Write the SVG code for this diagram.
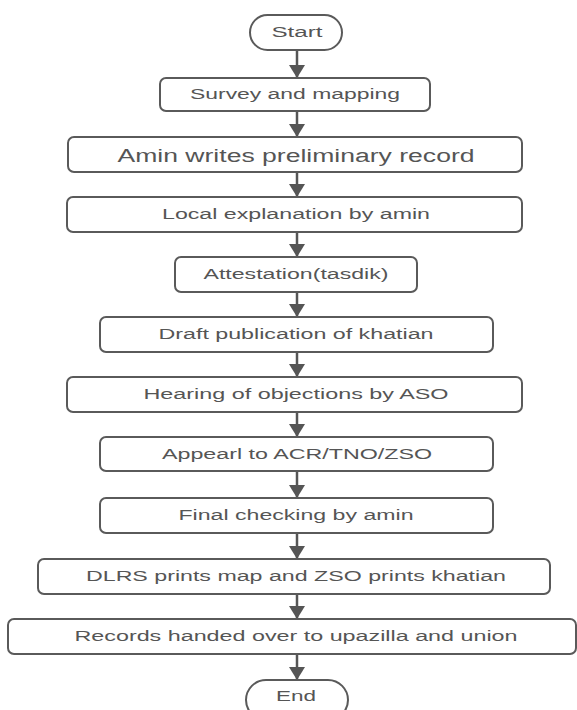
<svg xmlns="http://www.w3.org/2000/svg" width="577" height="710" viewBox="0 0 577 710">
<defs>
<style>
.box{fill:#fff;stroke:#5a5a5a;stroke-width:2}
.t{font-family:"Liberation Sans",Arial,sans-serif;font-size:14px;fill:#555;text-anchor:middle}
.big{font-size:18px}
.conn path{stroke:#555;stroke-width:2.5;fill:none}
</style>
<marker id="ah" markerUnits="userSpaceOnUse" markerWidth="13" markerHeight="16" viewBox="0 0 13 16" refX="13" refY="8" orient="auto">
<path d="M0,0 L13,8 L0,16 z" fill="#555"/>
</marker>
</defs>
<rect width="577" height="710" fill="#fff"/>
<g class="conn">
<path d="M297,50 V78" marker-end="url(#ah)"/>
<path d="M297,111 V137" marker-end="url(#ah)"/>
<path d="M297,172 V197" marker-end="url(#ah)"/>
<path d="M297,232 V257" marker-end="url(#ah)"/>
<path d="M297,292 V317" marker-end="url(#ah)"/>
<path d="M297,352 V377" marker-end="url(#ah)"/>
<path d="M297,412 V437" marker-end="url(#ah)"/>
<path d="M297,471 V498" marker-end="url(#ah)"/>
<path d="M297,533 V559" marker-end="url(#ah)"/>
<path d="M297,594 V619" marker-end="url(#ah)"/>
<path d="M297,654 V680" marker-end="url(#ah)"/>
</g>
<g id="start"><rect class="box" x="250" y="15" width="92" height="35" rx="17.5"/><text class="t" x="297" y="37" textLength="51" lengthAdjust="spacingAndGlyphs">Start</text></g>
<g id="survey"><rect class="box" x="160" y="78" width="270" height="33" rx="6"/><text class="t" x="295" y="99" font-size="15" textLength="210" lengthAdjust="spacingAndGlyphs">Survey and mapping</text></g>
<g id="amin"><rect class="box" x="68" y="137" width="454" height="35" rx="6"/><text class="t big" x="296" y="162" textLength="357" lengthAdjust="spacingAndGlyphs">Amin writes preliminary record</text></g>
<g id="local"><rect class="box" x="67" y="197" width="455" height="35" rx="6"/><text class="t" x="296" y="219" textLength="268" lengthAdjust="spacingAndGlyphs">Local explanation by amin</text></g>
<g id="attest"><rect class="box" x="175" y="257" width="242" height="35" rx="6"/><text class="t" x="296" y="279" textLength="185" lengthAdjust="spacingAndGlyphs">Attestation(tasdik)</text></g>
<g id="draft"><rect class="box" x="100" y="317" width="393" height="35" rx="6"/><text class="t" x="296" y="339" textLength="275" lengthAdjust="spacingAndGlyphs">Draft publication of khatian</text></g>
<g id="hearing"><rect class="box" x="67" y="377" width="455" height="35" rx="6"/><text class="t" x="296" y="399" textLength="305" lengthAdjust="spacingAndGlyphs">Hearing of objections by ASO</text></g>
<g id="appeal"><rect class="box" x="100" y="437" width="393" height="34" rx="6"/><text class="t" x="297" y="459" textLength="270" lengthAdjust="spacingAndGlyphs">Appearl to ACR/TNO/ZSO</text></g>
<g id="final"><rect class="box" x="100" y="498" width="393" height="35" rx="6"/><text class="t" x="296" y="520" textLength="235" lengthAdjust="spacingAndGlyphs">Final checking by amin</text></g>
<g id="dlrs"><rect class="box" x="38" y="559" width="512" height="35" rx="6"/><text class="t" x="296" y="581" textLength="420" lengthAdjust="spacingAndGlyphs">DLRS prints map and ZSO prints khatian</text></g>
<g id="records"><rect class="box" x="8" y="619" width="568" height="35" rx="6"/><text class="t" x="296" y="641" textLength="443" lengthAdjust="spacingAndGlyphs">Records handed over to upazilla and union</text></g>
<g id="end"><rect class="box" x="246" y="680" width="102" height="40" rx="20"/><text class="t" x="296" y="701" textLength="40" lengthAdjust="spacingAndGlyphs">End</text></g>
</svg>
